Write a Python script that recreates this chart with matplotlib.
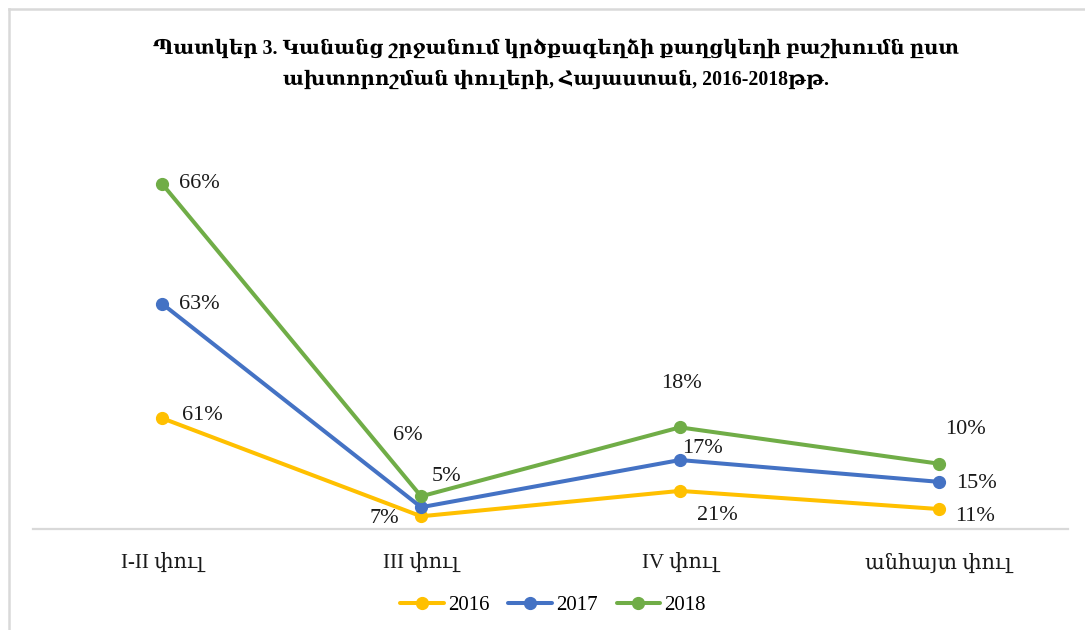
import matplotlib.pyplot as plt
import numpy as np

categories = ['I-II փուլ', 'III փուլ', 'IV փուլ', 'անհայտ փուլ']
years = ['2016', '2017', '2018']
v2016 = [61, 7, 21, 11]
v2017 = [63, 5, 17, 15]
v2018 = [66, 6, 18, 10]
colors = ['#FFC000', '#4472C4', '#70AD47']

title = ('Պատկեր 3. Կանանց շրջանում կրծքագեղձի քաղցկեղի բաշխումն ըստ\n'
         'ախտորոշման փուլերի, Հայաստան, 2016-2018թթ.')

plt.rcParams['font.family'] = ['Liberation Serif', 'DejaVu Serif']

fig = plt.figure(figsize=(10.85, 6.30), dpi=100)
ax = fig.add_axes([33/1085, 1-529/630, 1035/1085, 363/630])

# stacked line chart: each series sits on top of the previous ones
series = [v2016, v2017, v2018]
cum = np.cumsum(np.array(series), axis=0)
x = np.arange(len(categories))

# label offsets in pixels (dx, dy) per series / category
offsets = [
    [(40, 3), (-37, -2), (37, -25), (36, -7)],
    [(37, -1), (25, 31), (23, 12), (38, -2)],
    [(37, 1), (-13, 61), (2, 44), (27, 34)],
]

for i, (vals, top) in enumerate(zip(series, cum)):
    ax.plot(x, top, color=colors[i], lw=2.9, marker='o', ms=8.5,
            label=years[i], solid_capstyle='round', zorder=3+i)
    for j in range(len(x)):
        ax.annotate(f'{vals[j]}%', (x[j], top[j]), xytext=offsets[i][j],
                    textcoords='offset pixels', ha='center', va='center',
                    fontsize=16, color='#1a1a1a')

ax.set_xlim(-0.5, 3.5)
ax.set_ylim(0, 200)
ax.set_yticks([])
ax.set_xticks(x)
ax.set_xticklabels(categories, fontsize=15, color='#1a1a1a')
ax.tick_params(axis='x', length=0, pad=17.5)
for s in ['top', 'right', 'left']:
    ax.spines[s].set_visible(False)
ax.spines['bottom'].set_color('#d9d9d9')
ax.spines['bottom'].set_linewidth(1.6)

fig.text(0.512, 1-64/630, title, ha='center', va='center', fontsize=14.2,
         fontweight='bold', linespacing=1.75, color='#000000')

leg = fig.legend(loc='center', bbox_to_anchor=(553/1085, 1-605/630), ncol=3,
                 frameon=False, fontsize=15, handlelength=2.1,
                 columnspacing=0.9, handletextpad=0.2)

# chart border (left and top edges visible in the crop)
fig.add_artist(plt.Line2D([8.5/1085, 8.5/1085], [0, 1-9/630], color='#d9d9d9', lw=1.8))
fig.add_artist(plt.Line2D([8.5/1085, 1], [1-9/630, 1-9/630], color='#d9d9d9', lw=1.8))

fig.savefig('out.png', dpi=100)
